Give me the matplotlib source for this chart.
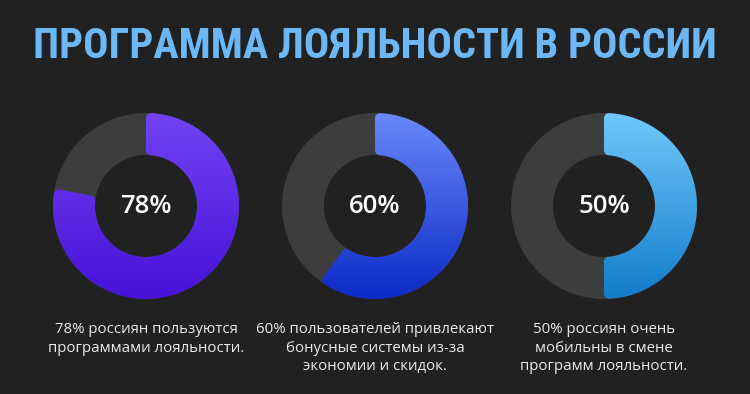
import numpy as np
import matplotlib
matplotlib.use("Agg")
import matplotlib.pyplot as plt
from matplotlib.path import Path
from matplotlib.patches import PathPatch, Wedge
from matplotlib import font_manager

# ---- data ----
title = "ПРОГРАММА ЛОЯЛЬНОСТИ В РОССИИ"
values = [78, 60, 50]
center_labels = ["78%", "60%", "50%"]
captions = [
    "78% россиян пользуются\nпрограммами лояльности.",
    "60% пользователей привлекают\nбонусные системы из-за\nэкономии и скидок.",
    "50% россиян очень\nмобильны в смене\nпрограмм лояльности.",
]
grad_top = ["#7243F3", "#6A88FA", "#70C8FB"]
grad_bot = ["#4711D8", "#0C2AC6", "#127CCA"]

# ---- layout ----
W, H = 750, 394
BG = "#212121"
RING = "#3D3D3D"
cx_list = [146, 375, 604]
cy_px = 206
R_out, R_in = 93, 51
rc = 5.0

fig = plt.figure(figsize=(7.5, 3.94), dpi=100, facecolor=BG)
ax = fig.add_axes([0, 0, 1, 1])
ax.set_xlim(0, W)
ax.set_ylim(0, H)
ax.set_aspect("equal")
ax.axis("off")
ax.set_facecolor(BG)


def u(deg):
    a = np.deg2rad(deg)
    return np.array([np.cos(a), np.sin(a)])


def arc_pts(c, r, a0, a1, n=40):
    ang = np.linspace(a0, a1, n)
    return [np.array(c) + r * u(a) for a in ang]


def rounded_sector(c, R, r, ta, tb, rc):
    c = np.array(c, float)
    do = np.rad2deg(rc / (R - rc))
    di = np.rad2deg(rc / (r + rc))
    pts = []
    co = c + (R - rc) * u(ta + do)
    pts += arc_pts(co, rc, ta + do - 90, ta + do, 10)
    pts += arc_pts(c, R, ta + do, tb - do, 200)
    co = c + (R - rc) * u(tb - do)
    pts += arc_pts(co, rc, tb - do, tb - do + 90, 10)
    ci = c + (r + rc) * u(tb - di)
    pts += arc_pts(ci, rc, tb - di + 90, tb - di + 180, 10)
    pts += arc_pts(c, r, tb - di, ta + di, 200)
    ci = c + (r + rc) * u(ta + di)
    pts += arc_pts(ci, rc, ta + di + 180, ta + di + 270, 10)
    pts.append(pts[0])
    codes = [Path.MOVETO] + [Path.LINETO] * (len(pts) - 2) + [Path.CLOSEPOLY]
    return Path(np.array(pts), codes)


def hex2rgb(h):
    h = h.lstrip("#")
    return np.array([int(h[i:i + 2], 16) / 255 for i in (0, 2, 4)])


cy = H - cy_px
for i, v in enumerate(values):
    cx = cx_list[i]
    ax.add_patch(Wedge((cx, cy), R_out, 0, 360, width=R_out - R_in,
                       facecolor=RING, edgecolor="none"))
    tb = 90.0
    ta = 90.0 - 360.0 * v / 100.0
    path = rounded_sector((cx, cy), R_out, R_in, ta, tb, rc)
    patch = PathPatch(path, facecolor="none", edgecolor="none")
    ax.add_patch(patch)
    top = hex2rgb(grad_top[i])
    bot = hex2rgb(grad_bot[i])
    n = 256
    t = np.linspace(0, 1, n)[:, None]
    img = (top[None, None, :] * (1 - t[..., None]) + bot[None, None, :] * t[..., None])
    img = np.repeat(img, 2, axis=1)
    im = ax.imshow(img, extent=(cx - R_out, cx + R_out, cy - R_out, cy + R_out),
                   origin="upper", interpolation="bilinear", zorder=2, aspect="auto")
    im.set_clip_path(patch)
    ax.text(cx, cy, center_labels[i], ha="center", va="center",
            color="white", fontsize=18.5, fontfamily="Open Sans",
            fontweight="semibold", zorder=3)
    ax.text(cx, H - 322, captions[i], ha="center", va="top",
            color="#EAEAEA", fontsize=10.8, fontfamily="Open Sans",
            linespacing=1.34, zorder=3)

# title font: prefer a narrow bold face
title_family = "DejaVu Sans"
for fam in ["Liberation Sans Narrow", "Roboto Condensed", "Open Sans Condensed",
            "Roboto", "Inter"]:
    try:
        font_manager.findfont(font_manager.FontProperties(family=fam, weight="bold"),
                              fallback_to_default=False)
        title_family = fam
        break
    except Exception:
        continue

tt = ax.text(W / 2, H - 46, title, ha="center", va="center", color="#6CB8F6",
             fontsize=30, fontfamily=title_family, fontweight="bold", zorder=3)
fig.canvas.draw()
bb = tt.get_window_extent()
target = 684.0
if bb.width > 0:
    tt.set_fontsize(30 * target / bb.width)

fig.savefig("out.png", dpi=100, facecolor=BG)
